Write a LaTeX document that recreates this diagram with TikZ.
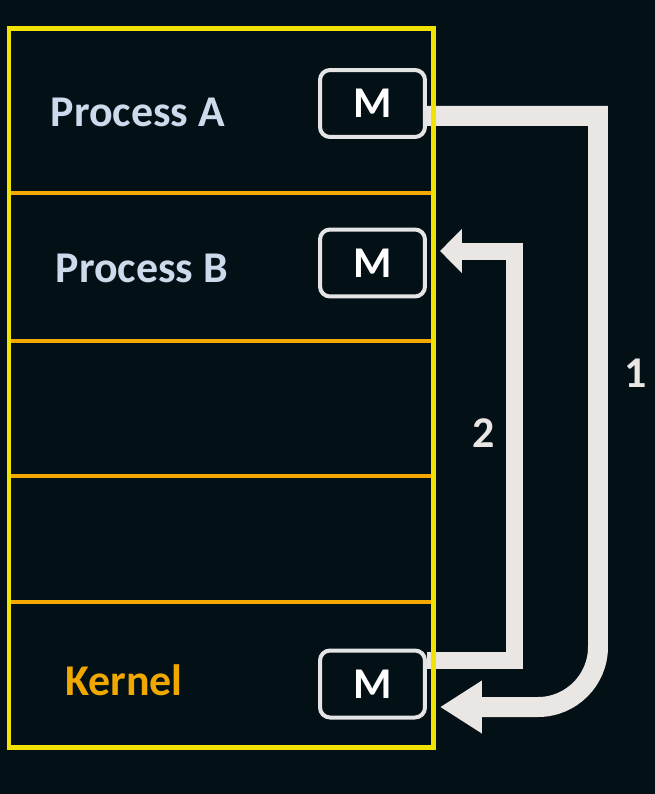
\documentclass[tikz,border=0pt]{standalone}
\usepackage{fontspec}
\setmainfont{Carlito}
\usetikzlibrary{arrows.meta}
\definecolor{bgcol}{RGB}{3,17,23}
\definecolor{memyellow}{RGB}{242,226,0}
\definecolor{slotline}{RGB}{245,168,0}
\definecolor{proctext}{RGB}{205,218,236}
\definecolor{kerneltext}{RGB}{240,168,0}
\definecolor{flowgray}{RGB}{234,230,228}
\definecolor{boxgray}{RGB}{228,228,228}

\begin{document}
\begin{tikzpicture}[x=0.02cm,y=0.02cm,
    msgbox/.style={rectangle,draw=boxgray,line width=0.08cm,rounded corners=0.2cm,
      fill=bgcol,text=white,inner sep=0pt,minimum width=2.1cm,minimum height=1.34cm,
      font=\fontsize{25}{30}\selectfont\bfseries},
    lbl/.style={anchor=base,font=\fontsize{25}{30}\selectfont\bfseries},
    slot/.style={draw=slotline,line width=0.07cm},
    mem/.style={draw=memyellow,line width=0.1cm},
    flowa/.style={draw=flowgray,line width=0.4cm,
      -{Triangle[length=0.84cm,width=1.0cm,fill=flowgray]}},
    flowb/.style={draw=flowgray,line width=0.34cm,
      -{Triangle[length=0.44cm,width=0.86cm,fill=flowgray]}}]
\useasboundingbox (0,0) rectangle (655,-794);
\fill[bgcol] (0,0) rectangle (655,-794);
% memory slots
\foreach \y in {193,341,476,602}
  \draw[slot] (9,-\y) -- (433,-\y);
\node[lbl,text=proctext] (pa) at (138,-127) {Process A};
\node[lbl,text=proctext] (pb) at (142,-282) {Process B};
\node[lbl,text=kerneltext] (kern) at (124,-695) {Kernel};
% messages
\node[msgbox] (ma) at (372.5,-103.5) {M};
\node[msgbox] (mb) at (372.5,-263) {M};
\node[msgbox] (mk) at (372.5,-684) {M};
% 1: A to kernel, 2: kernel to B
\draw[flowa] ([yshift=-0.25cm]ma.east) -- ++(171,0) -- ++(0,-531)
  arc[start angle=0,end angle=-90,radius=60] -- ([shift={(13,-23)}]mk.east);
\draw[flowb] ([shift={(0,24)}]mk.east) -| ([shift={(88,12)}]mb.east)
  -- ([shift={(13,12)}]mb.east);
\node[lbl,text=flowgray] (n1) at (636,-387) {1};
\node[lbl,text=flowgray] (n2) at (484,-447) {2};
\draw[mem] (9,-29) rectangle (433,-747);
\end{tikzpicture}
\end{document}
